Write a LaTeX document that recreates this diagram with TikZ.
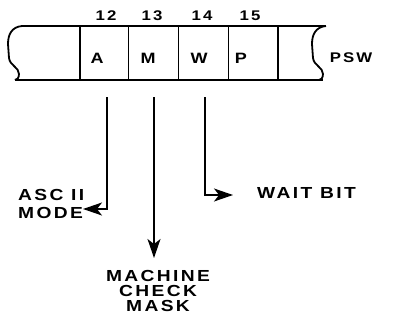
\documentclass[tikz,border=0pt]{standalone}
\usepackage{fontspec}
\setmainfont{Liberation Sans}
\newfontfamily\pswfont{Liberation Sans}[FakeStretch=1.2,LetterSpace=15]
\usetikzlibrary{arrows.meta}

\begin{document}
\begin{tikzpicture}[x=1pt,y=-1pt,
		lbl/.style={font=\pswfont\bfseries\fontsize{16}{15}\selectfont, inner sep=0pt},
		num/.style={font=\pswfont\bfseries\fontsize{14}{14}\selectfont, inner sep=0pt},
		bit/.style={font=\pswfont\bfseries\fontsize{15}{15}\selectfont, inner sep=0pt},
		reg/.style={line width=1.8pt},
		divider/.style={line width=1pt},
		edge/.style={line width=2.6pt},
		arrow/.style={-{Stealth[length=19pt,width=13pt,inset=5pt]}, line width=1.4pt}
	]
		\useasboundingbox (0,0) rectangle (407,324);
		% register outline
		\draw[reg] (22,26) -- (326,26);
		\draw[reg] (15,80) -- (323,80);
		\foreach \s in {22,326}
			\draw[reg, xshift=\s] (0,26) .. controls (-10,27) and (-14,34) .. (-14,44) -- (-13,58)
				.. controls (-12,66) and (-3,67) .. (-3,74) .. controls (-3,78) and (-5,80) .. (-7,80);
		\draw[edge] (80,26) -- (80,80);
		\draw[edge] (278,26) -- (278,80);
		\foreach \x in {128,178,228}
			\draw[divider] (\x,26) -- (\x,80);
		% bit numbers and letters
		\foreach \x/\n in {106/12,152/13,202/14,250/15}
			\node[num] (n\n) at (\x,16) {\n};
		\node[bit] (bitA) at (97,58) {A};
		\node[bit] (bitM) at (148,58) {M};
		\node[bit] (bitW) at (199,58) {W};
		\node[bit] (bitP) at (241,58) {P};
		\node[num] (psw) at (351,58) {PSW};
		% labels
		\node[lbl, align=left, anchor=north west] (asc) at (18,189) {ASC II\\[3pt]MODE};
		\node[lbl, align=center, anchor=north] (mcm) at (158,270) {MACHINE\\CHECK\\MASK};
		\node[lbl, anchor=west] (wait) at (257,193) {WAIT BIT};
		% connectors
		\coordinate (a0) at (107,97);
		\coordinate (m0) at (154,97);
		\coordinate (w0) at (205,97);
		\coordinate (aend) at (83,209);
		\coordinate (mend) at (154,258);
		\coordinate (wend) at (233,195);
		\draw[arrow] (a0) |- (aend);
		\draw[arrow] (m0) -- (mend);
		\draw[arrow] (w0) |- (wend);
	\end{tikzpicture}
\end{document}
